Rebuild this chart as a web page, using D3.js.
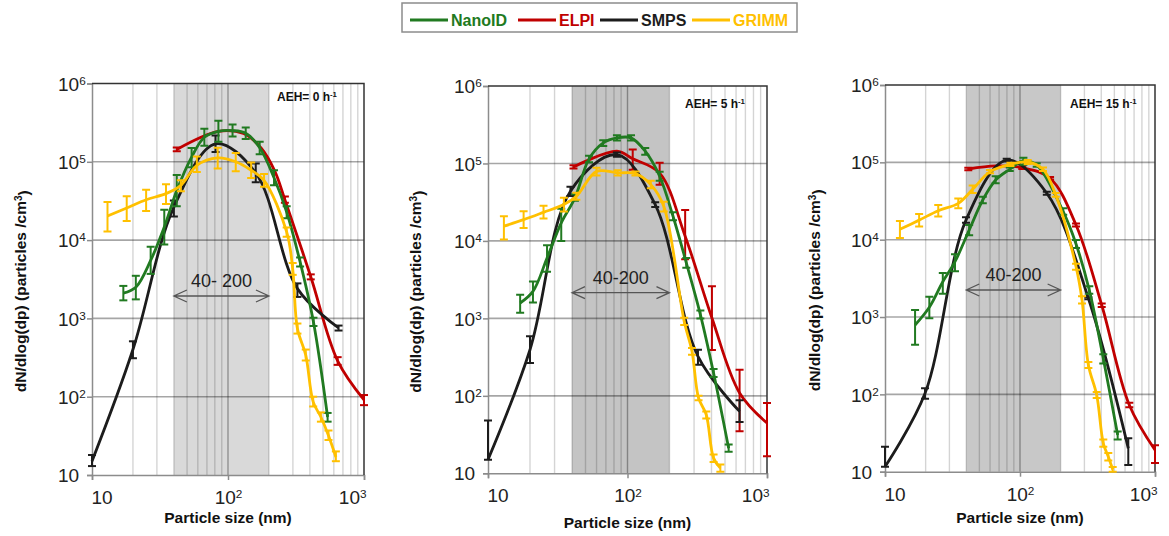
<!DOCTYPE html>
<html lang="en">
<head>
<meta charset="utf-8">
<script src="https://d3js.org/d3.v7.min.js"></script>
<style>
  body { margin: 0; background: #fff; }
  svg { display: block; font-family: "Liberation Sans", Arial, sans-serif; }
</style>
</head>
<body>
<svg width="1169" height="536"></svg>
<script>
// ---- chart values ----
const seriesNames = ["NanoID", "ELPI", "SMPS", "GRIMM"];
const seriesColors = ["#217a21", "#c00000", "#1c1c1c", "#ffc000"];
const aehValues = ["0", "5", "15"];
const rangeLabels = ["40- 200", "40-200", "40-200"];
const shadeRange = [40, 200];
const xDomain = [10, 1000];
const yDomain = [10, 1e6];
const xTicks = [10, 100, 1000];
const yTicks = [10, 100, 1000, 1e4, 1e5, 1e6];

// [size (nm), dN/dlog(dp), error low, error high]
const nano0 = [[17, 2100, 1700, 2600], [21, 2500, 1750, 3500], [27, 5500, 3700, 8200], [34, 14700, 8800, 24500],
  [42, 43000, 27000, 68000], [54, 115000, 85000, 150000], [67, 206000, 160000, 265000], [85, 245000, 180000, 335000],
  [108, 250000, 210000, 300000], [135, 232000, 195000, 275000], [171, 151000, 125000, 180000], [218, 62700, 50000, 78000],
  [270, 22800, 19000, 27000], [339, 5260, 4600, 6000], [425, 900, 800, 1020], [540, 55, 48, 62]];
const elpi0 = [[42, 144000, 136000, 152000], [85, 245000, 245000, 245000], [130, 230000, 230000, 230000],
  [175, 150000, 150000, 150000], [220, 77000, 77000, 77000], [262, 32800, 30000, 36000], [406, 3400, 3150, 3650],
  [640, 287, 255, 320], [1000, 91, 78, 105]];
const smps0 = [[10, 15, 13, 18], [20, 400, 310, 510], [40, 26400, 20000, 32000], [81, 170000, 133000, 217000],
  [160, 72000, 55000, 95000], [324, 2400, 1880, 2800], [650, 757, 700, 810]];
const grimm0 = [[13, 20300, 12900, 30700], [18, 25700, 17500, 36200], [25, 32800, 23500, 44000], [35, 39200, 29000, 51500],
  [45, 50000, 42000, 58000], [59, 90000, 74000, 117000], [84, 112000, 82000, 151000], [114, 100000, 76000, 130000],
  [148, 78000, 62000, 98000], [184, 58000, 48000, 70000], [270, 12700, 11000, 14500], [299, 4300, 3600, 5100],
  [324, 740, 640, 860], [373, 340, 290, 400], [423, 86, 75, 100], [482, 55, 48, 63], [548, 32, 28, 37], [621, 17, 15, 20]];

const nano1 = [[17, 1580, 1180, 2020], [21, 2230, 1600, 3000], [26.5, 6000, 4000, 8800], [33.5, 17100, 10000, 26000],
  [42, 36000, 33000, 40000], [53, 114600, 104000, 126000], [67, 184500, 168000, 200000], [84, 214000, 198000, 232000],
  [106, 214000, 198000, 232000], [134, 144000, 130000, 158000], [170, 68400, 60000, 78000], [212, 20800, 18500, 23500],
  [264, 5200, 4500, 6000], [333, 1120, 1000, 1260], [414, 197, 175, 222], [531, 21, 19, 23.5]];
const elpi1 = [[41, 90300, 86000, 95000], [84, 144000, 144000, 144000], [109, 115000, 83000, 151000],
  [170, 75000, 53000, 102000], [259, 11500, 5800, 25000], [403, 1010, 390, 2590], [636, 109, 35, 217], [1000, 44.6, 16.6, 81]];
const smps1 = [[10, 15, 15, 48], [20, 394, 265, 586], [39, 43800, 38000, 50000], [84, 130000, 122000, 138000],
  [158, 29400, 27500, 31500], [320, 323, 252, 395], [636, 63, 46, 88]];
const grimm1 = [[13, 15500, 10400, 20800], [18, 18800, 14700, 24100], [25, 23400, 19500, 28500], [35, 29500, 24000, 36000],
  [43, 37700, 34000, 42000], [60, 79000, 70000, 88000], [85, 75700, 70000, 82000], [114, 74000, 70000, 79000],
  [147, 53300, 48000, 60000], [182, 28000, 24000, 32000], [255, 915, 820, 1020], [290, 375, 340, 415],
  [323, 94, 88, 100], [367, 57, 51, 63], [414, 15.7, 14, 17.5], [463, 11.7, 10.5, 13]];

const nano2 = [[16.7, 789, 437, 1230], [21.3, 1340, 962, 1830], [26.8, 2860, 2000, 3700], [33, 5190, 3900, 6500],
  [42, 13300, 11400, 15500], [53, 32600, 29500, 36000], [66, 59100, 53500, 66000], [84, 81300, 77000, 86000],
  [106, 105000, 93000, 115000], [133, 92500, 88000, 97000], [209, 23000, 21000, 25500], [260, 8800, 7800, 9900],
  [326, 2230, 2000, 2500], [414, 292, 250, 330], [529, 29.9, 26, 33]];
const elpi2 = [[41.4, 82000, 79000, 85000], [66, 90000, 90000, 90000], [104, 85300, 82000, 88500],
  [167, 62200, 60000, 64500], [260, 15500, 14800, 16200], [403, 1430, 1350, 1500], [645, 72.8, 68, 78], [1000, 19.1, 13, 22]];
const smps2 = [[10, 11.6, 11.6, 21], [19.8, 103, 88, 120], [39.8, 17900, 16500, 19500], [79.7, 107000, 103000, 111000],
  [158, 39800, 38000, 41700], [321, 1750, 1700, 1800], [634, 20, 12.2, 27]];
const grimm2 = [[12.9, 13600, 10500, 17500], [17.9, 17900, 14800, 21500], [24.8, 23700, 20000, 28000], [34.9, 29500, 25500, 34000],
  [44.6, 44800, 40000, 50000], [60, 75700, 72000, 79500], [85, 94400, 90000, 99000], [114, 101000, 95000, 107000],
  [148, 81200, 77000, 86000], [184, 37900, 36000, 40000], [260, 4480, 4100, 4900], [288, 1660, 1500, 1850],
  [321, 240, 220, 262], [370, 98, 90, 107], [414, 23.3, 21, 26], [451, 15.6, 14, 17.5], [486, 10.7, 10, 11.5]];

const panelData = [
  [nano0, elpi0, smps0, grimm0],
  [nano1, elpi1, smps1, grimm1],
  [nano2, elpi2, smps2, grimm2]
];

// ---- layout ----
const panels = [
  { left: 92, right: 364, top: 83.5, bottom: 475, titleX: 21, aehX: 277, aehY: 101, arrowY: 296, xtY: 48, shade: "#d9d9d9" },
  { left: 488, right: 767, top: 86, bottom: 473.3, titleX: 416, aehX: 685, aehY: 107.5, arrowY: 292.7, xtY: 55, shade: "#c4c4c4" },
  { left: 885, right: 1155, top: 85, bottom: 471.7, titleX: 815, aehX: 1070, aehY: 107.5, arrowY: 290, xtY: 51, shade: "#c8c8c8" }
];
const drawOrder = [1, 2, 0, 3];

const svg = d3.select("svg");

// superscript helper for "10^n" labels
function powLabel(sel, v) {
  const e = Math.round(Math.log10(v));
  sel.text("");
  sel.append("tspan").text("10");
  if (e > 1) sel.append("tspan").attr("dy", "-0.5em").attr("font-size", "0.62em").text(e);
}

panels.forEach((p, pi) => {
  const x = d3.scaleLog().domain(xDomain).range([p.left, p.right]);
  const y = d3.scaleLog().domain(yDomain).range([p.bottom, p.top]);
  const g = svg.append("g");

  g.append("clipPath").attr("id", "clip" + pi)
    .append("rect").attr("x", p.left - 6).attr("y", p.top - 4)
    .attr("width", p.right - p.left + 12).attr("height", p.bottom - p.top + 8);

  // shaded 40-200 band
  g.append("rect")
    .attr("x", x(shadeRange[0])).attr("y", p.top)
    .attr("width", x(shadeRange[1]) - x(shadeRange[0]))
    .attr("height", p.bottom - p.top)
    .attr("fill", p.shade);

  // vertical grid (log minor lines)
  const minor = [];
  for (let dec = 10; dec < 1000; dec *= 10)
    for (let k = 2; k <= 9; k++) minor.push(dec * k);
  g.selectAll(".vminor").data(minor).enter().append("line")
    .attr("x1", d => x(d)).attr("x2", d => x(d))
    .attr("y1", p.top).attr("y2", p.bottom)
    .attr("stroke", "rgba(0,0,0,0.17)").attr("stroke-width", 1.4);
  g.append("line")
    .attr("x1", x(100)).attr("x2", x(100)).attr("y1", p.top).attr("y2", p.bottom)
    .attr("stroke", "rgba(0,0,0,0.33)").attr("stroke-width", 1.4);
  g.selectAll(".hgrid").data(yTicks.slice(1, -1)).enter().append("line")
    .attr("x1", p.left).attr("x2", p.right)
    .attr("y1", d => y(d)).attr("y2", d => y(d))
    .attr("stroke", "rgba(0,0,0,0.35)").attr("stroke-width", 1.6);

  // axes
  const yAxis = g.append("g").attr("transform", `translate(${p.left},0)`)
    .call(d3.axisLeft(y).tickValues(yTicks).tickSize(5).tickPadding(8));
  yAxis.select(".domain").attr("stroke", "#8c8c8c").attr("stroke-width", 1.5);
  yAxis.selectAll(".tick line").attr("stroke", "#8c8c8c").attr("stroke-width", 1.5);
  yAxis.selectAll(".tick text")
    .attr("text-anchor", "start").attr("x", -34).attr("dy", "0.35em")
    .attr("font-size", 19).attr("fill", "#222")
    .attr("font-family", "'Liberation Sans', Arial, sans-serif")
    .each(function (d) { powLabel(d3.select(this), d); });

  const xAxis = g.append("g").attr("transform", `translate(0,${p.bottom})`)
    .call(d3.axisBottom(x).tickValues(xTicks).tickSize(5).tickPadding(7));
  xAxis.select(".domain").attr("stroke", "#8c8c8c").attr("stroke-width", 1.5);
  xAxis.selectAll(".tick line").attr("stroke", "#8c8c8c").attr("stroke-width", 1.5);
  xAxis.selectAll(".tick text")
    .attr("font-size", 19).attr("fill", "#222").attr("dy", "0.9em")
    .attr("font-family", "'Liberation Sans', Arial, sans-serif")
    .attr("text-anchor", (d, i) => i == 0 ? "start" : (i == xTicks.length - 1 ? "end" : "middle"))
    .attr("x", (d, i) => i == 0 ? -1 : (i == xTicks.length - 1 ? 2 : 0))
    .each(function (d) { powLabel(d3.select(this), d); });

  // top / right frame
  g.append("path")
    .attr("d", `M${p.left},${p.top}H${p.right}V${p.bottom}`)
    .attr("fill", "none").attr("stroke", "#333").attr("stroke-width", 1.5);

  // axis titles
  const yt = g.append("text")
    .attr("transform", `translate(${p.titleX},${(p.top + p.bottom) / 2 + 12}) rotate(-90)`)
    .attr("text-anchor", "middle").attr("dy", "0.35em")
    .attr("font-size", 15.5).attr("font-weight", "bold").attr("fill", "#111");
  yt.append("tspan").text("dN/dlog(dp) (particles /cm");
  yt.append("tspan").attr("dy", "-0.45em").attr("font-size", "0.65em").text("3");
  yt.append("tspan").attr("dy", "0.45em").text(")");

  g.append("text")
    .attr("x", x(100)).attr("y", p.bottom + p.xtY)
    .attr("text-anchor", "middle")
    .attr("font-size", 15.5).attr("font-weight", "bold").attr("fill", "#111")
    .text("Particle size (nm)");

  // AEH label
  const at = g.append("text").attr("x", p.aehX).attr("y", p.aehY)
    .attr("font-size", 12).attr("font-weight", "bold").attr("fill", "#111");
  at.append("tspan").text("AEH= " + aehValues[pi] + " h");
  at.append("tspan").attr("dy", "-0.45em").attr("font-size", "0.65em").text("-1");

  // 40-200 double arrow
  const ax0 = x(shadeRange[0]), ax1 = x(shadeRange[1]);
  g.append("path")
    .attr("d", `M${ax0},${p.arrowY}H${ax1}` +
      `M${ax0 + 13},${p.arrowY - 6}L${ax0},${p.arrowY}L${ax0 + 13},${p.arrowY + 6}` +
      `M${ax1 - 13},${p.arrowY - 6}L${ax1},${p.arrowY}L${ax1 - 13},${p.arrowY + 6}`)
    .attr("fill", "none").attr("stroke", "#555").attr("stroke-width", 1.3);
  g.append("text")
    .attr("x", (ax0 + ax1) / 2).attr("y", p.arrowY - 9)
    .attr("text-anchor", "middle").attr("font-size", 18).attr("fill", "#222")
    .text(rangeLabels[pi]);

  // series curves and error bars
  const plot = g.append("g").attr("clip-path", `url(#clip${pi})`);
  const line = d3.line()
    .x(d => x(d[0])).y(d => y(d[1]))
    .curve(d3.curveCatmullRom.alpha(0.5));

  drawOrder.forEach(si => {
    const data = panelData[pi][si];
    const color = seriesColors[si];
    const sg = plot.append("g");
    sg.append("path").datum(data)
      .attr("d", line)
      .attr("fill", "none").attr("stroke", color).attr("stroke-width", 2.8);
    const bars = sg.selectAll(".bar").data(data.filter(d => d[3] > d[2])).enter().append("g");
    bars.append("line")
      .attr("x1", d => x(d[0])).attr("x2", d => x(d[0]))
      .attr("y1", d => y(d[2])).attr("y2", d => y(d[3]))
      .attr("stroke", color).attr("stroke-width", 2);
    [2, 3].forEach(k => {
      bars.append("line")
        .attr("x1", d => x(d[0]) - 4).attr("x2", d => x(d[0]) + 4)
        .attr("y1", d => y(d[k])).attr("y2", d => y(d[k]))
        .attr("stroke", color).attr("stroke-width", 2);
    });
  });
});

// ---- legend ----
const legendX = [410, 518, 600, 692];
const legend = svg.append("g");
legend.append("rect")
  .attr("x", 402).attr("y", 3).attr("width", 395).attr("height", 29)
  .attr("fill", "#fff").attr("stroke", "#8c8c8c").attr("stroke-width", 1.5);
seriesNames.forEach((name, i) => {
  legend.append("line")
    .attr("x1", legendX[i]).attr("x2", legendX[i] + 38)
    .attr("y1", 20).attr("y2", 20)
    .attr("stroke", seriesColors[i]).attr("stroke-width", 2.8);
  legend.append("text")
    .attr("x", legendX[i] + 41).attr("y", 26)
    .attr("font-size", 16).attr("font-weight", "bold")
    .attr("fill", seriesColors[i])
    .text(name);
});
</script>
</body>
</html>
